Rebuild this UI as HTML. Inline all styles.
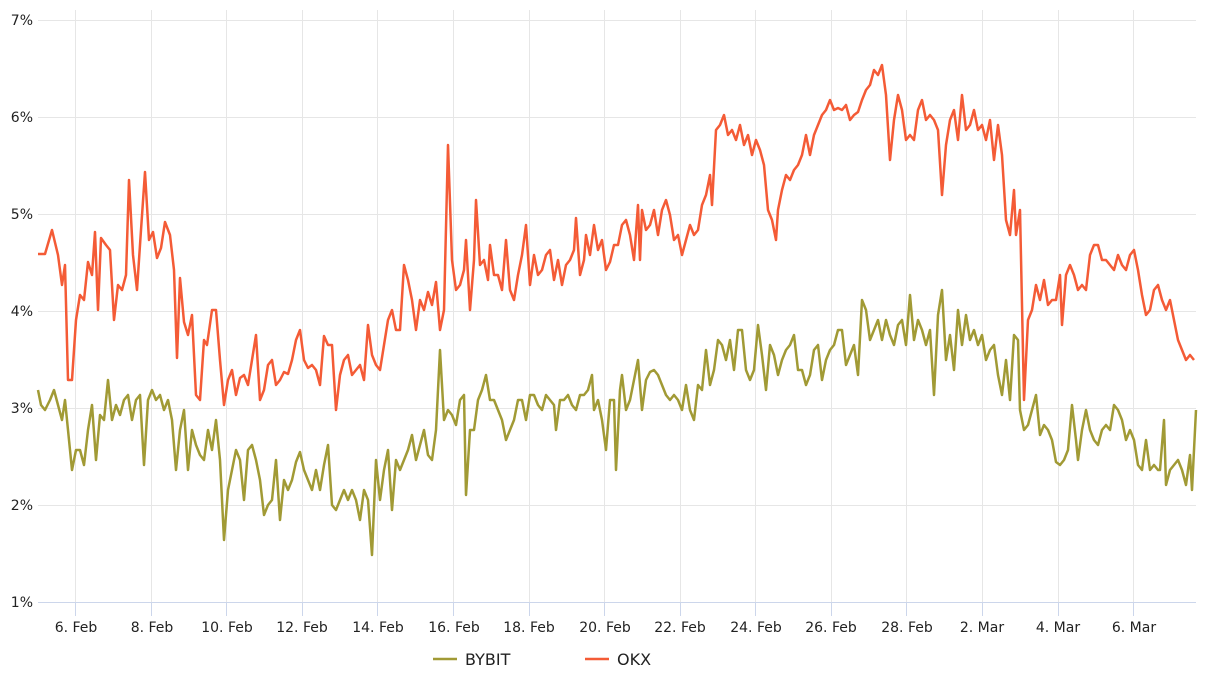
<!DOCTYPE html>
<html><head><meta charset="utf-8"><style>
html,body{margin:0;padding:0;background:#fff;width:1206px;height:676px;overflow:hidden}
text{font-family:"DejaVu Sans","Liberation Sans",sans-serif;font-size:14px;fill:#222}
</style></head><body>
<svg width="1206" height="676" viewBox="0 0 1206 676">
<g stroke="#e6e6e6" stroke-width="1">
<line x1="38" y1="20.5" x2="1196" y2="20.5"/>
<line x1="38" y1="117.5" x2="1196" y2="117.5"/>
<line x1="38" y1="214.5" x2="1196" y2="214.5"/>
<line x1="38" y1="311.5" x2="1196" y2="311.5"/>
<line x1="38" y1="408.5" x2="1196" y2="408.5"/>
<line x1="38" y1="505.5" x2="1196" y2="505.5"/>
<line x1="75.5" y1="10" x2="75.5" y2="602"/>
<line x1="151.5" y1="10" x2="151.5" y2="602"/>
<line x1="226.5" y1="10" x2="226.5" y2="602"/>
<line x1="302.5" y1="10" x2="302.5" y2="602"/>
<line x1="377.5" y1="10" x2="377.5" y2="602"/>
<line x1="453.5" y1="10" x2="453.5" y2="602"/>
<line x1="529.5" y1="10" x2="529.5" y2="602"/>
<line x1="604.5" y1="10" x2="604.5" y2="602"/>
<line x1="680.5" y1="10" x2="680.5" y2="602"/>
<line x1="755.5" y1="10" x2="755.5" y2="602"/>
<line x1="831.5" y1="10" x2="831.5" y2="602"/>
<line x1="906.5" y1="10" x2="906.5" y2="602"/>
<line x1="982.5" y1="10" x2="982.5" y2="602"/>
<line x1="1058.5" y1="10" x2="1058.5" y2="602"/>
<line x1="1133.5" y1="10" x2="1133.5" y2="602"/>
</g>
<g stroke="#ccd6eb" stroke-width="1">
<line x1="38" y1="602.5" x2="1196" y2="602.5"/>
<line x1="75.5" y1="602" x2="75.5" y2="616"/><line x1="151.5" y1="602" x2="151.5" y2="616"/><line x1="226.5" y1="602" x2="226.5" y2="616"/><line x1="302.5" y1="602" x2="302.5" y2="616"/><line x1="377.5" y1="602" x2="377.5" y2="616"/><line x1="453.5" y1="602" x2="453.5" y2="616"/><line x1="529.5" y1="602" x2="529.5" y2="616"/><line x1="604.5" y1="602" x2="604.5" y2="616"/><line x1="680.5" y1="602" x2="680.5" y2="616"/><line x1="755.5" y1="602" x2="755.5" y2="616"/><line x1="831.5" y1="602" x2="831.5" y2="616"/><line x1="906.5" y1="602" x2="906.5" y2="616"/><line x1="982.5" y1="602" x2="982.5" y2="616"/><line x1="1058.5" y1="602" x2="1058.5" y2="616"/><line x1="1133.5" y1="602" x2="1133.5" y2="616"/>
</g>
<g text-anchor="end">
<text x="33" y="25">7%</text><text x="33" y="122">6%</text><text x="33" y="219">5%</text><text x="33" y="316">4%</text><text x="33" y="413">3%</text><text x="33" y="510">2%</text><text x="33" y="607">1%</text>
</g>
<g text-anchor="middle">
<text x="76" y="632">6. Feb</text><text x="152" y="632">8. Feb</text><text x="227" y="632">10. Feb</text><text x="302" y="632">12. Feb</text><text x="378" y="632">14. Feb</text><text x="454" y="632">16. Feb</text><text x="529" y="632">18. Feb</text><text x="605" y="632">20. Feb</text><text x="680" y="632">22. Feb</text><text x="756" y="632">24. Feb</text><text x="831" y="632">26. Feb</text><text x="907" y="632">28. Feb</text><text x="982" y="632">2. Mar</text><text x="1058" y="632">4. Mar</text><text x="1134" y="632">6. Mar</text>
</g>
<polyline fill="none" stroke="#f45b36" stroke-width="2.5" stroke-linejoin="round" points="38,254 45,254 52,230 58,255 62,285 65,265 68,380 72,380 76,320 80,295 84,300 88,262 92,275 95,232 98,310 101,238 106,245 110,250 114,320 118,285 122,290 126,275 129,180 133,255 137,290 141,230 145,172 149,240 153,232 157,258 161,248 165,222 170,235 174,270 177,358 180,278 184,322 188,335 192,315 196,395 200,400 204,340 207,345 212,310 216,310 220,360 224,405 228,380 232,370 236,395 240,378 244,375 248,385 252,360 256,335 260,400 264,390 268,365 272,360 276,385 280,380 284,372 288,374 292,360 296,340 300,330 304,360 308,368 312,365 316,370 320,385 324,336 328,345 332,345 336,410 340,375 344,360 348,355 352,375 356,370 360,365 364,380 368,325 372,355 376,365 380,370 384,345 388,320 392,310 396,330 400,330 404,265 408,280 412,300 416,330 420,300 424,310 428,292 432,305 436,282 440,330 444,310 448,145 452,260 456,290 460,285 464,270 466,240 470,310 474,260 476,200 480,265 484,260 488,280 490,245 494,275 498,275 502,290 506,240 510,290 514,300 518,275 522,255 526,225 530,285 534,255 538,275 542,270 546,255 550,250 554,280 558,260 562,285 566,265 570,260 574,250 576,218 580,275 584,260 586,235 590,255 594,225 598,250 602,240 606,270 610,262 614,245 618,245 622,225 626,220 630,235 634,260 638,205 640,260 642,210 646,230 650,225 654,210 658,235 662,210 666,200 670,215 674,240 678,235 682,255 686,240 690,225 694,235 698,230 702,205 706,195 710,175 712,205 716,130 720,125 724,115 728,135 732,130 736,140 740,125 744,145 748,135 752,155 756,140 760,150 764,165 768,210 772,220 776,240 778,210 782,190 786,175 790,180 794,170 798,165 802,155 806,135 810,155 814,135 818,125 822,115 826,110 830,100 834,110 838,108 842,110 846,105 850,120 854,115 858,112 862,100 866,90 870,85 874,70 878,75 882,65 886,95 890,160 894,120 898,95 902,110 906,140 910,135 914,140 918,110 922,100 926,120 930,115 934,120 938,130 942,195 946,145 950,120 954,110 958,140 962,95 966,130 970,125 974,110 978,130 982,125 986,140 990,120 994,160 998,125 1002,155 1006,220 1010,235 1014,190 1016,235 1020,210 1024,400 1028,320 1032,310 1036,285 1040,300 1044,280 1048,305 1052,300 1056,300 1060,275 1062,325 1066,275 1070,265 1074,275 1078,290 1082,285 1086,290 1090,255 1094,245 1098,245 1102,260 1106,260 1110,265 1114,270 1118,255 1122,265 1126,270 1130,255 1134,250 1138,270 1142,295 1146,315 1150,310 1154,290 1158,285 1162,300 1166,310 1170,300 1174,320 1178,340 1182,350 1186,360 1190,355 1194,360"/>
<polyline fill="none" stroke="#a19a35" stroke-width="2.5" stroke-linejoin="round" points="38,390 41,405 45,410 50,400 54,390 58,405 62,420 65,400 68,430 72,470 76,450 80,450 84,465 88,430 92,405 96,460 100,415 104,420 108,380 112,420 116,405 120,415 124,400 128,395 132,420 136,400 140,395 144,465 148,400 152,390 156,400 160,395 164,410 168,400 172,420 176,470 180,430 184,410 188,470 192,430 196,445 200,455 204,460 208,430 212,450 216,420 220,460 224,540 228,490 232,470 236,450 240,460 244,500 248,450 252,445 256,460 260,480 264,515 268,505 272,500 276,460 280,520 284,480 288,490 292,480 296,462 300,452 304,470 308,480 312,490 316,470 320,490 324,465 328,445 332,505 336,510 340,500 344,490 348,500 352,490 356,500 360,520 364,490 368,500 372,555 376,460 380,500 384,470 388,450 392,510 396,460 400,470 404,460 408,450 412,435 416,460 420,445 424,430 428,455 432,460 436,430 440,350 444,420 448,410 452,415 456,425 460,400 464,395 466,495 470,430 474,430 478,400 482,390 486,375 490,400 494,400 498,410 502,420 506,440 510,430 514,420 518,400 522,400 526,420 530,395 534,395 538,405 542,410 546,395 550,400 554,405 556,430 560,400 564,400 568,395 572,405 576,410 580,395 584,395 588,390 592,375 594,410 598,400 602,420 606,450 610,400 614,400 616,470 620,390 622,375 626,410 630,400 634,380 638,360 642,410 646,380 650,372 654,370 658,375 662,385 666,395 670,400 674,395 678,400 682,410 686,385 690,410 694,420 698,385 702,390 706,350 710,385 714,370 718,340 722,345 726,360 730,340 734,370 738,330 742,330 746,370 750,380 754,370 758,325 762,355 766,390 770,345 774,355 778,375 782,360 786,350 790,345 794,335 798,370 802,370 806,385 810,375 814,350 818,345 822,380 826,360 830,350 834,345 838,330 842,330 846,365 850,355 854,345 858,375 862,300 866,310 870,340 874,330 878,320 882,340 886,320 890,335 894,345 898,325 902,320 906,345 910,295 914,340 918,320 922,330 926,345 930,330 934,395 938,315 942,290 946,360 950,335 954,370 958,310 962,345 966,315 970,340 974,330 978,345 982,335 986,360 990,350 994,345 998,375 1002,395 1006,360 1010,400 1014,335 1018,340 1020,410 1024,430 1028,425 1032,410 1036,395 1040,435 1044,425 1048,430 1052,440 1056,462 1060,465 1064,460 1068,450 1072,405 1076,440 1078,460 1082,430 1086,410 1090,430 1094,440 1098,445 1102,430 1106,425 1110,430 1114,405 1118,410 1122,420 1126,440 1130,430 1134,440 1138,465 1142,470 1146,440 1150,470 1154,465 1158,470 1160,470 1164,420 1166,485 1170,470 1174,465 1178,460 1182,470 1186,485 1190,455 1192,490 1196,410"/>
<line x1="433" y1="659" x2="457" y2="659" stroke="#a19a35" stroke-width="2.5"/>
<text x="465" y="665" style="font-size:16px">BYBIT</text>
<line x1="585" y1="659" x2="609" y2="659" stroke="#f45b36" stroke-width="2.5"/>
<text x="617" y="665" style="font-size:16px">OKX</text>
</svg>
</body></html>
